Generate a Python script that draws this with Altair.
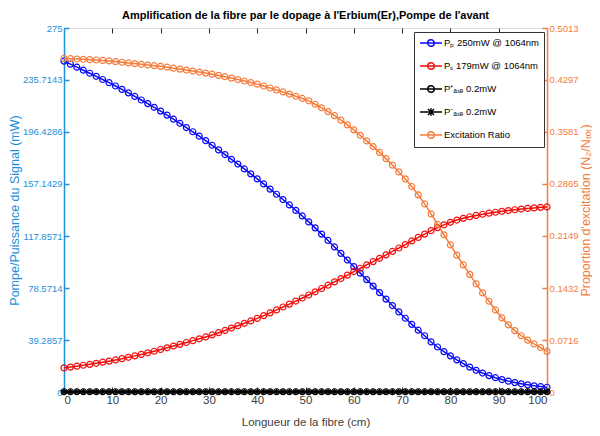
import altair as alt
import pandas as pd

# ---------------- data ----------------
x_cm = [round(i * 100 / 75, 3) for i in range(76)]

pump = [250.0, 247.7, 245.4, 243.1, 240.8, 238.5, 236.1, 233.7, 231.2, 228.6,
        226.0, 223.3, 220.6, 217.9, 215.1, 212.2, 209.2, 206.1, 203.0, 199.8,
        196.6, 193.3, 189.9, 186.4, 182.9, 179.4, 175.8, 172.2, 168.5, 164.8,
        161.0, 157.2, 153.3, 149.4, 145.4, 141.3, 137.2, 133.0, 128.5, 124.0,
        119.3, 114.5, 109.6, 104.7, 99.7, 94.7, 89.8, 84.9, 80.0, 75.1,
        70.2, 65.3, 60.5, 55.7, 51.1, 46.7, 42.5, 37.8, 34.0, 30.5,
        27.3, 24.3, 21.5, 18.8, 16.4, 14.3, 12.4, 10.8, 9.4, 8.2,
        7.1, 6.2, 5.4, 4.7, 4.1, 3.6]

signal = [18.2, 18.8, 19.5, 20.2, 20.9, 21.7, 22.5, 23.3, 24.2, 25.2,
          26.2, 27.3, 28.4, 29.6, 30.8, 32.1, 33.4, 34.7, 36.0, 37.4,
          38.8, 40.2, 41.6, 43.1, 44.8, 46.5, 48.3, 50.1, 51.9, 53.7,
          55.6, 57.7, 59.8, 62.0, 64.2, 66.4, 68.7, 71.0, 73.3, 75.7,
          78.2, 80.7, 83.2, 85.7, 88.3, 91.0, 93.5, 96.0, 98.5, 101.0,
          103.6, 106.2, 108.8, 111.4, 114.1, 116.8, 119.3, 121.9, 124.2, 126.3,
          128.2, 129.9, 131.2, 132.4, 133.4, 134.3, 135.1, 135.8, 136.5, 137.1,
          137.7, 138.2, 138.7, 139.1, 139.5, 139.8]

ase_plus = [0.2] * 76
ase_minus = [0.2] * 76

ratio = [0.4594, 0.4590, 0.4586, 0.4582, 0.4577, 0.4572, 0.4566, 0.4559, 0.4550, 0.4541,
         0.4532, 0.4523, 0.4513, 0.4503, 0.4494, 0.4485, 0.4473, 0.4460, 0.4447, 0.4434,
         0.4420, 0.4406, 0.4392, 0.4377, 0.4360, 0.4342, 0.4323, 0.4303, 0.4283, 0.4262,
         0.4240, 0.4214, 0.4187, 0.4160, 0.4132, 0.4103, 0.4073, 0.4043, 0.4010, 0.3963,
         0.3914, 0.3861, 0.3805, 0.3744, 0.3679, 0.3610, 0.3535, 0.3458, 0.3380, 0.3300,
         0.3214, 0.3124, 0.3031, 0.2935, 0.2830, 0.2715, 0.2590, 0.2452, 0.2310, 0.2165,
         0.2025, 0.1885, 0.1750, 0.1620, 0.1490, 0.1365, 0.1250, 0.1130, 0.1020, 0.0925,
         0.0845, 0.0775, 0.0715, 0.0662, 0.0612, 0.0560]

series_names = ["Pₚ 250mW @ 1064nm", "Pₛ 179mW @ 1064nm",
                "P⁺ₐₛₑ 0.2mW", "P⁻ₐₛₑ 0.2mW", "Excitation Ratio"]
series_colors = ["#0a0af5", "#f20d0d", "#000000", "#000000", "#f47c3c"]

x_ticks = [0, 10, 20, 30, 40, 50, 60, 70, 80, 90, 100]
left_ticks = [0, 39.2857, 78.5714, 117.8571, 157.1429, 196.4286, 235.7143, 275]
right_ticks = [0, 0.0716, 0.1432, 0.2149, 0.2865, 0.3581, 0.4297, 0.5013]

title_text = "Amplification de la fibre par le dopage à l'Erbium(Er),Pompe de l'avant"
x_title = "Longueur de la fibre (cm)"
left_title = "Pompe/Puissance du Signal (mW)"
right_title = "Proportion d'excitation (N₂/Nₜₒₜ)"

LEFT_COLOR = "#1e90db"
RIGHT_COLOR = "#f47c3c"
FONT = "Liberation Sans, Arial, sans-serif"

# ---------------- tables ----------------
rows = []
for name, vals in zip(series_names[:4], [pump, signal, ase_plus, ase_minus]):
    for xv, v in zip(x_cm, vals):
        rows.append({"x": xv, "v": v, "series": name})
df_left = pd.DataFrame(rows)
df_right = pd.DataFrame({"x": x_cm, "v": ratio, "series": series_names[4]})

STAR = "M-1,0L1,0M0,-1L0,1M-0.7,-0.7L0.7,0.7M-0.7,0.7L0.7,-0.7"
LEG_CIRC = "M-1,0L3.4,0M0.55,0A0.65,0.65 0 1,0 1.85,0A0.65,0.65 0 1,0 0.55,0"
LEG_STAR = "M-1,0L3.4,0M0.6,-0.6L1.8,0.6M0.6,0.6L1.8,-0.6M1.2,-0.75L1.2,0.75"

color_scale = alt.Scale(domain=series_names, range=series_colors)
x_scale = alt.Scale(domain=[0, 100], nice=False, zero=False)
left_scale = alt.Scale(domain=[0, 275], nice=False)
right_scale = alt.Scale(domain=[0, 0.5013], nice=False)

axis_x_main = alt.Axis(orient="bottom", values=x_ticks, title=x_title, domain=False, ticks=False,
                       grid=False, labelPadding=2, labelColor="#404040", titleColor="#404040",
                       labelFont=FONT, titleFont=FONT, labelFontSize=11.5, titleFontSize=11.5,
                       titleFontWeight="normal", titlePadding=11)
axis_x_ticks_bottom = alt.Axis(orient="bottom", values=x_ticks, title=None, labels=False, domain=False,
                               grid=False, ticks=True, tickSize=5, offset=-5, tickColor="#262626")
axis_x_ticks_top = alt.Axis(orient="top", values=x_ticks, title=None, labels=False, domain=False,
                            grid=False, ticks=True, tickSize=5, offset=-5, tickColor="#262626")

axis_left_main = alt.Axis(orient="left", values=left_ticks, title=left_title, format=".4~f",
                          domain=True, domainColor=LEFT_COLOR, domainWidth=1.5, ticks=False,
                          grid=False, labelPadding=2, labelColor=LEFT_COLOR, titleColor=LEFT_COLOR,
                          labelFont=FONT, titleFont=FONT, labelFontSize=9.5,
                          titleFontSize=12.5, titleFontWeight="normal", titlePadding=1)
axis_left_ticks = alt.Axis(orient="left", values=left_ticks, title=None, labels=False, domain=False,
                           grid=False, ticks=True, tickSize=5, offset=-5, tickColor=LEFT_COLOR,
                           tickWidth=1.5)
axis_right_main = alt.Axis(orient="right", values=right_ticks, title=right_title, format=".4~f",
                           domain=True, domainColor=RIGHT_COLOR, domainWidth=1.5, ticks=False,
                           grid=False, labelPadding=2, labelColor=RIGHT_COLOR, titleColor=RIGHT_COLOR,
                           labelFont=FONT, titleFont=FONT, labelFontSize=9.5,
                           titleFontSize=12.5, titleFontWeight="normal", titlePadding=1,
                           titleAngle=270, titleBaseline="top")
axis_right_ticks = alt.Axis(orient="right", values=right_ticks, title=None, labels=False, domain=False,
                            grid=False, ticks=True, tickSize=5, offset=-5, tickColor=RIGHT_COLOR,
                            tickWidth=1.5)

X = lambda ax: alt.X("x:Q", scale=x_scale, axis=ax)
YL = lambda ax: alt.Y("v:Q", scale=left_scale, axis=ax)
YR = lambda ax: alt.Y("v:Q", scale=right_scale, axis=ax)
COL = alt.Color("series:N", scale=color_scale)

left_base = alt.Chart(df_left)
legend_layer = left_base.mark_point(filled=False, strokeWidth=1.5, opacity=0).encode(
    x=X(None), y=YL(None),
    color=alt.Color("series:N", scale=color_scale, legend=alt.Legend(
        title=None, orient="none", legendX=350, legendY=4, strokeColor="#333333",
        fillColor="white", padding=5, rowPadding=9, labelFont=FONT, labelFontSize=9.5,
        labelColor="black", symbolSize=100, symbolStrokeWidth=1.5, labelOffset=13,
        labelLimit=200, symbolOpacity=1)),
    shape=alt.Shape("series:N", scale=alt.Scale(
        domain=series_names, range=[LEG_CIRC, LEG_CIRC, LEG_CIRC, LEG_STAR, LEG_CIRC]),
        legend=alt.Legend(title=None, orient="none", legendX=350, legendY=4))
)
left_lines = left_base.mark_line(strokeWidth=1.5).encode(
    x=X(axis_x_main), y=YL(axis_left_main), color=COL)
left_circles = left_base.mark_point(filled=False, size=36, strokeWidth=1.2, opacity=1).encode(
    x=X(None), y=YL(None), color=COL
).transform_filter(alt.datum.series != series_names[3])
left_stars = left_base.mark_point(shape=STAR, filled=False, size=36, strokeWidth=1.2, opacity=1).encode(
    x=X(None), y=YL(None), color=COL
).transform_filter(alt.datum.series == series_names[3])
left_tick_layer = left_base.mark_point(opacity=0).encode(
    x=X(axis_x_ticks_bottom), y=YL(axis_left_ticks))
top_tick_layer = left_base.mark_point(opacity=0).encode(
    x=X(axis_x_ticks_top), y=YL(None))

left_group = alt.layer(legend_layer, left_lines, left_circles, left_stars, left_tick_layer,
                       top_tick_layer).resolve_axis(x="independent", y="independent")

right_base = alt.Chart(df_right)
right_line = right_base.mark_line(strokeWidth=1.5, color=RIGHT_COLOR).encode(
    x=X(None), y=YR(axis_right_main))
right_points = right_base.mark_point(filled=False, size=36, strokeWidth=1.2, opacity=1,
                                     color=RIGHT_COLOR).encode(x=X(None), y=YR(None))
right_ticks = right_base.mark_point(opacity=0).encode(x=X(None), y=YR(axis_right_ticks))
right_group = alt.layer(right_line, right_points, right_ticks).resolve_axis(y="independent")

chart = alt.layer(left_group, right_group).resolve_scale(
    y="independent"
).resolve_axis(x="independent", y="independent").properties(
    width=584, height=420,
    autosize=alt.AutoSizeParams(type="fit", contains="padding"),
    padding={"left": 0, "right": 0, "top": 2, "bottom": 0},
    title=alt.TitleParams(title_text, font=FONT, fontSize=11, fontWeight="bold",
                          color="black", anchor="middle", offset=2)
).configure_view(stroke="#262626", strokeWidth=1).configure(background="white")

chart.save("out.html", embed_options={"renderer": "svg", "actions": False})
